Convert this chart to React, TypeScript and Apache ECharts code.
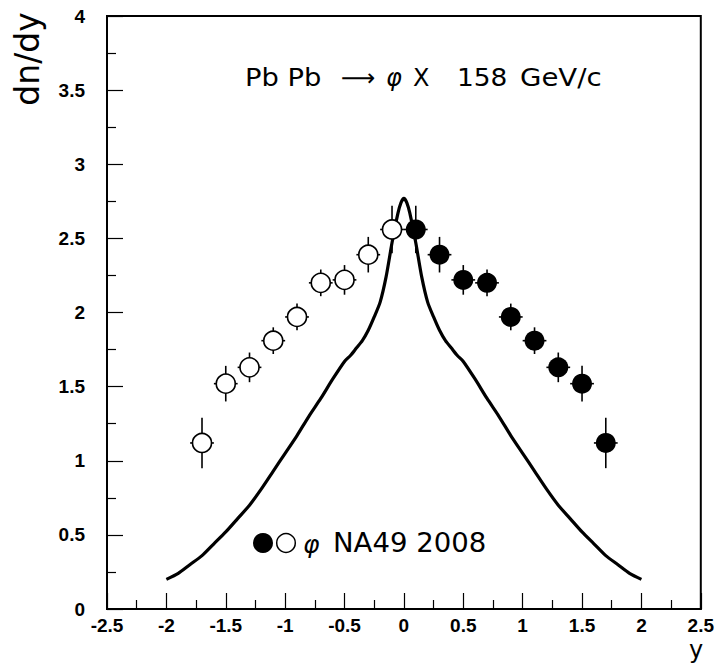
import React, { useEffect, useRef } from "react";
import * as echarts from "echarts";

// Filled points (NA49 measured, y > 0)
const filledX = [0.1, 0.3, 0.5, 0.7, 0.9, 1.1, 1.3, 1.5, 1.7];
const filledY = [2.56, 2.39, 2.22, 2.2, 1.97, 1.81, 1.63, 1.52, 1.12];
const filledErr = [0.16, 0.12, 0.1, 0.09, 0.09, 0.09, 0.1, 0.12, 0.17];

// Open points (reflected, y < 0)
const openX = [-0.1, -0.3, -0.5, -0.7, -0.9, -1.1, -1.3, -1.5, -1.7];
const openY = [2.56, 2.39, 2.22, 2.2, 1.97, 1.81, 1.63, 1.52, 1.12];
const openErr = [0.16, 0.12, 0.1, 0.09, 0.09, 0.09, 0.1, 0.12, 0.17];

const xErrHalf = 0.1;

// Model curve
const curveX = [
  -2.0, -1.9, -1.8, -1.7, -1.6, -1.5, -1.4, -1.3, -1.2, -1.1, -1.0, -0.9, -0.8, -0.7, -0.6, -0.5,
  -0.45, -0.4, -0.35, -0.3, -0.25, -0.2, -0.15, -0.1, -0.05, -0.025, 0, 0.025, 0.05, 0.1, 0.15,
  0.2, 0.25, 0.3, 0.35, 0.4, 0.45, 0.5, 0.6, 0.7, 0.8, 0.9, 1.0, 1.1, 1.2, 1.3, 1.4, 1.5, 1.6,
  1.7, 1.8, 1.9, 2.0,
];
const curveY = [
  0.2, 0.24, 0.3, 0.36, 0.44, 0.52, 0.61, 0.7, 0.81, 0.93, 1.05, 1.17, 1.3, 1.42, 1.55, 1.67,
  1.71, 1.76, 1.81, 1.88, 1.97, 2.07, 2.24, 2.47, 2.67, 2.74, 2.77, 2.74, 2.67, 2.47, 2.24,
  2.07, 1.97, 1.88, 1.81, 1.76, 1.71, 1.67, 1.55, 1.42, 1.3, 1.17, 1.05, 0.93, 0.81, 0.7, 0.61,
  0.52, 0.44, 0.36, 0.3, 0.24, 0.2,
];

const xTicks = { min: -2.5, max: 2.5, interval: 0.5 };
const yTicks = { min: 0, max: 4, interval: 0.5 };

const titleParts = ["Pb Pb", "⟶", "φ", "X", "158", "GeV/c"];
const legendText = ["φ", "NA49 2008"];
const axisTitles = { y: "dn/dy", x: "y" };

export default function App() {
  const ref = useRef<HTMLDivElement>(null);

  useEffect(() => {
    if (!ref.current) return;
    const chart = echarts.init(ref.current, undefined, { renderer: "svg" });

    const errRender = (params: any, api: any) => {
      const x = api.value(0);
      const y = api.value(1);
      const e = api.value(2);
      const top = api.coord([x, y + e]);
      const bot = api.coord([x, y - e]);
      const l = api.coord([x - xErrHalf, y]);
      const r = api.coord([x + xErrHalf, y]);
      const st = { stroke: "#000", lineWidth: 1.6 };
      return {
        type: "group",
        children: [
          { type: "line", shape: { x1: top[0], y1: top[1], x2: bot[0], y2: bot[1] }, style: st },
          { type: "line", shape: { x1: l[0], y1: l[1], x2: r[0], y2: r[1] }, style: st },
        ],
      };
    };

    const font = "DejaVu Sans";
    const labelFont = "Liberation Sans";
    const titleY = 78;

    const tickLabel = {
      color: "#000",
      fontFamily: labelFont,
      fontWeight: "bold",
      fontSize: 19,
      formatter: (v: number) => String(v),
    };

    chart.setOption({
      animation: false,
      backgroundColor: "#fff",
      grid: {
        left: 107,
        right: 13,
        top: 16,
        bottom: 56,
        show: true,
        borderColor: "#000",
        borderWidth: 2,
        backgroundColor: "transparent",
      },
      xAxis: {
        type: "value",
        min: xTicks.min,
        max: xTicks.max,
        interval: xTicks.interval,
        axisLine: { show: true, onZero: false, lineStyle: { color: "#000", width: 2 } },
        axisTick: { show: true, inside: true, length: 16, lineStyle: { color: "#000", width: 1.2 } },
        minorTick: { show: true, splitNumber: 2, length: 9, lineStyle: { color: "#000", width: 1.2 } },
        splitLine: { show: false },
        axisLabel: { ...tickLabel, margin: 7 },
      },
      yAxis: {
        type: "value",
        min: yTicks.min,
        max: yTicks.max,
        interval: yTicks.interval,
        axisLine: { show: true, onZero: false, lineStyle: { color: "#000", width: 2 } },
        axisTick: { show: true, inside: true, length: 16, lineStyle: { color: "#000", width: 1.2 } },
        minorTick: { show: true, splitNumber: 2, length: 9, lineStyle: { color: "#000", width: 1.2 } },
        splitLine: { show: false },
        axisLabel: { ...tickLabel, margin: 22 },
      },
      series: [
        {
          type: "line",
          data: curveX.map((x, i) => [x, curveY[i]]),
          showSymbol: false,
          smooth: 0.25,
          lineStyle: { color: "#000", width: 3.2 },
          z: 1,
        },
        {
          type: "custom",
          renderItem: errRender,
          data: filledX.map((x, i) => [x, filledY[i], filledErr[i]]),
          z: 2,
        },
        {
          type: "custom",
          renderItem: errRender,
          data: openX.map((x, i) => [x, openY[i], openErr[i]]),
          z: 2,
        },
        {
          type: "scatter",
          data: filledX.map((x, i) => [x, filledY[i]]),
          symbol: "circle",
          symbolSize: 20,
          itemStyle: { color: "#000", opacity: 1 },
          z: 3,
        },
        {
          type: "scatter",
          data: openX.map((x, i) => [x, openY[i]]),
          symbol: "circle",
          symbolSize: 19,
          itemStyle: { color: "#fff", borderColor: "#000", borderWidth: 1.6, opacity: 1 },
          z: 3,
        },
      ],
      graphic: [
        {
          type: "text",
          x: 27,
          y: 59,
          rotation: Math.PI / 2,
          style: {
            text: axisTitles.y,
            font: `33px "${font}"`,
            fill: "#000",
            align: "center",
            verticalAlign: "middle",
          },
        },
        {
          type: "text",
          x: 696,
          y: 650,
          style: {
            text: axisTitles.x,
            font: `24px "${font}"`,
            lineHeight: 20,
            fill: "#000",
            align: "center",
            verticalAlign: "middle",
          },
        },
        // title
        {
          type: "text",
          x: 245,
          y: titleY,
          scaleX: 1.14,
          style: { text: titleParts[0], font: `24px "${font}"`, fill: "#000", align: "left", verticalAlign: "middle" },
        },
        {
          type: "text",
          x: 341,
          y: titleY,
          style: { text: titleParts[1], font: `24px "${font}"`, fill: "#000", align: "left", verticalAlign: "middle" },
        },
        {
          type: "text",
          x: 386,
          y: titleY,
          style: { text: titleParts[2], font: `italic 24px "${font}"`, fill: "#000", align: "left", verticalAlign: "middle" },
        },
        {
          type: "text",
          x: 413,
          y: titleY,
          style: { text: titleParts[3], font: `24px "${font}"`, fill: "#000", align: "left", verticalAlign: "middle" },
        },
        {
          type: "text",
          x: 457,
          y: titleY,
          scaleX: 1.1,
          style: { text: titleParts[4], font: `24px "${font}"`, fill: "#000", align: "left", verticalAlign: "middle" },
        },
        {
          type: "text",
          x: 520,
          y: titleY,
          scaleX: 1.15,
          style: { text: titleParts[5], font: `24px "${font}"`, fill: "#000", align: "left", verticalAlign: "middle" },
        },
        // legend
        { type: "circle", shape: { cx: 263, cy: 543, r: 10 }, style: { fill: "#000" } },
        { type: "circle", shape: { cx: 286, cy: 543, r: 9.3 }, style: { fill: "#fff", stroke: "#000", lineWidth: 1.5 } },
        {
          type: "text",
          x: 303,
          y: 544,
          style: { text: legendText[0], font: `italic 25px "${font}"`, fill: "#000", align: "left", verticalAlign: "middle" },
        },
        {
          type: "text",
          x: 333,
          y: 543,
          scaleX: 1.06,
          style: { text: legendText[1], font: `26px "${font}"`, fill: "#000", align: "left", verticalAlign: "middle" },
        },
      ],
    });

    return () => chart.dispose();
  }, []);

  return <div ref={ref} style={{ width: 717, height: 665, position: "absolute", left: 0, top: 0 }} />;
}
